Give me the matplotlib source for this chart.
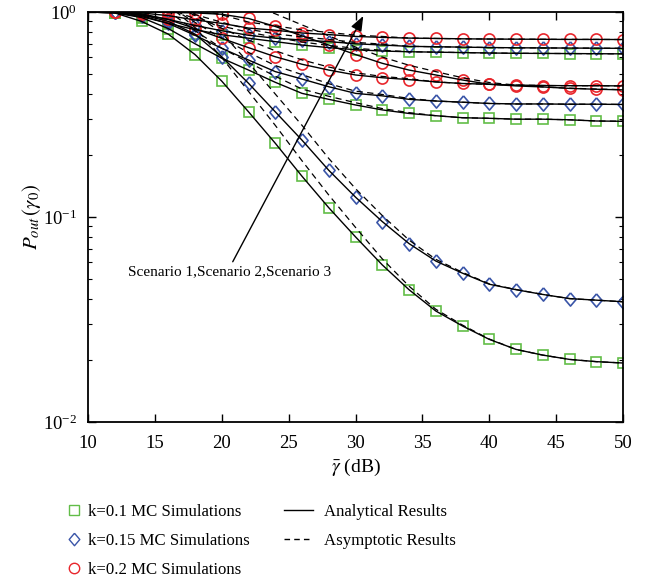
import numpy as np
import matplotlib
matplotlib.use("Agg")
from matplotlib import pyplot as plt
from matplotlib.lines import Line2D

plt.rcParams['font.family'] = ['Liberation Serif', 'DejaVu Serif']
plt.rcParams['mathtext.fontset'] = 'stix'

# eje x: snr medio en dB (las simulaciones MC van de 12 a 50)
snr = [10, 12, 14, 16, 18, 20, 22, 24, 26, 28, 30, 32, 34, 36, 38, 40, 42, 44, 46, 48, 50]

# ---- escenario 1 (curvas de abajo)
q1 = [1.0, 0.99, 0.90, 0.78, 0.62, 0.46, 0.326, 0.229, 0.158, 0.111, 0.080, 0.0584, 0.0442,
      0.0348, 0.0294, 0.0253, 0.0226, 0.0212, 0.0202, 0.0197, 0.0194]
d1 = [1.0, 1.0, 0.97, 0.90, 0.78, 0.605, 0.449, 0.326, 0.237, 0.169, 0.125, 0.095, 0.0742,
      0.061, 0.0532, 0.047, 0.0442, 0.0419, 0.040, 0.0393, 0.0386]
r1 = [1.0, 1.0, 1.0, 0.995, 0.99, 0.975, 0.93, 0.85, 0.765, 0.69, 0.62, 0.562, 0.521,
      0.493, 0.466, 0.444, 0.436, 0.431, 0.424, 0.42, 0.417]
# ---- escenario 2
q2 = [1.0, 0.99, 0.94, 0.83, 0.70, 0.595, 0.521, 0.454, 0.401, 0.375, 0.352, 0.333, 0.32,
      0.312, 0.305, 0.303, 0.30, 0.30, 0.298, 0.294, 0.293]
d2 = [1.0, 1.0, 0.96, 0.88, 0.77, 0.665, 0.583, 0.512, 0.471, 0.432, 0.401, 0.39, 0.375,
      0.368, 0.363, 0.358, 0.356, 0.356, 0.355, 0.355, 0.354]
r2 = [1.0, 1.0, 0.98, 0.92, 0.83, 0.744, 0.67, 0.605, 0.556, 0.521, 0.493, 0.478, 0.468,
      0.456, 0.448, 0.444, 0.44, 0.438, 0.437, 0.437, 0.436]
# ---- escenario 3 (curvas de arriba)
q3 = [1.0, 0.99, 0.95, 0.88, 0.82, 0.775, 0.745, 0.717, 0.69, 0.67, 0.655, 0.645, 0.64,
      0.637, 0.634, 0.631, 0.629, 0.628, 0.627, 0.626, 0.625]
d3 = [1.0, 1.0, 0.97, 0.92, 0.86, 0.81, 0.77, 0.745, 0.73, 0.717, 0.70, 0.69, 0.68,
      0.677, 0.674, 0.671, 0.669, 0.668, 0.667, 0.666, 0.665]
r3 = [1.0, 1.0, 0.99, 0.96, 0.915, 0.88, 0.835, 0.815, 0.79, 0.776, 0.76, 0.752, 0.746,
      0.743, 0.74, 0.738, 0.737, 0.736, 0.735, 0.735, 0.734]

# ---- resultados asintoticos (lineas discontinuas)
q1_as = [1.8, 1.5, 1.3, 1.08, 0.84, 0.60, 0.41, 0.28, 0.188, 0.128, 0.089, 0.0625, 0.046,
         0.0355, 0.0297, 0.0254, 0.0226, 0.0212, 0.0202, 0.0197, 0.0194]
d1_as = [2.0, 1.7, 1.45, 1.2, 0.98, 0.79, 0.566, 0.398, 0.28, 0.193, 0.1375, 0.1017, 0.0772,
         0.0622, 0.0537, 0.0472, 0.0443, 0.0419, 0.040, 0.0393, 0.0386]
r1_as = [1.6, 1.5, 1.4, 1.32, 1.26, 1.2, 1.10, 0.98, 0.865, 0.765, 0.675, 0.603, 0.55,
         0.512, 0.478, 0.453, 0.44, 0.431, 0.425, 0.421, 0.418]
q2_as = [1.5, 1.39, 1.22, 1.01, 0.81, 0.666, 0.568, 0.486, 0.421, 0.388, 0.361, 0.338, 0.323,
         0.312, 0.305, 0.303, 0.30, 0.30, 0.298, 0.294, 0.293]
d2_as = [1.5, 1.4, 1.25, 1.07, 0.89, 0.745, 0.635, 0.548, 0.495, 0.447, 0.411, 0.396, 0.379,
         0.368, 0.363, 0.358, 0.356, 0.356, 0.355, 0.355, 0.354]
r2_as = [1.5, 1.4, 1.27, 1.12, 0.96, 0.833, 0.73, 0.647, 0.584, 0.539, 0.505, 0.485, 0.473,
         0.456, 0.448, 0.444, 0.44, 0.438, 0.437, 0.437, 0.436]
q3_as = [1.4, 1.31, 1.19, 1.04, 0.927, 0.853, 0.797, 0.753, 0.714, 0.687, 0.665, 0.651, 0.64,
         0.637, 0.634, 0.631, 0.629, 0.628, 0.627, 0.626, 0.625]
d3_as = [1.4, 1.32, 1.21, 1.09, 0.972, 0.891, 0.824, 0.782, 0.756, 0.735, 0.711, 0.697, 0.68,
         0.677, 0.674, 0.671, 0.669, 0.668, 0.667, 0.666, 0.665]
r3_as = [1.4, 1.32, 1.24, 1.13, 1.03, 0.968, 0.893, 0.856, 0.818, 0.795, 0.771, 0.76, 0.746,
         0.743, 0.74, 0.738, 0.737, 0.736, 0.735, 0.735, 0.734]

verde = '#62bd48'
azul = '#3a55a8'
rojo = '#e8262c'
# rombo mas ancho que el 'd' de matplotlib
rombo = [(0, 1), (0.85, 0), (0, -1), (-0.85, 0), (0, 1)]

fig = plt.figure(figsize=(6.54, 5.8), dpi=100)
ax = fig.add_axes([0.1346, 0.2724, 0.818, 0.7069])

# lineas discontinuas
for v in [q1_as, d1_as, r1_as, q2_as, d2_as, r2_as, q3_as, d3_as, r3_as]:
    ax.plot(snr, v, color='black', lw=0.9, ls=(0, (5, 3.5)), zorder=3)
# lineas analiticas
for v in [q1, d1, r1, q2, d2, r2, q3, d3, r3]:
    ax.plot(snr, v, color='black', lw=1.0, zorder=3)

# simulaciones MC (desde 12 dB)
for v in [q1, q2, q3]:
    ax.plot(snr[1:], v[1:], ls='none', marker='s', ms=7.5, mfc='none', mec=verde, mew=1.2, zorder=2)
for v in [d1, d2, d3]:
    ax.plot(snr[1:], v[1:], ls='none', marker=rombo, ms=9.5, mfc='none', mec=azul, mew=1.2, zorder=2)
for v in [r1, r2, r3]:
    ax.plot(snr[1:], v[1:], ls='none', marker='o', ms=8, mfc='none', mec=rojo, mew=1.2, zorder=2)

ax.set_yscale('log')
ax.set_xlim(10, 50)
ax.set_ylim(1e-2, 1)
ax.set_xticks([10, 15, 20, 25, 30, 35, 40, 45, 50])
ax.tick_params(which='both', direction='in', top=True, right=True, labelsize=13.5)
ax.tick_params(which='major', length=6, width=1)
ax.tick_params(which='minor', length=3, width=0.8)
ax.tick_params(axis='x', pad=9)
ax.tick_params(axis='y', pad=8)
for s in ax.spines.values():
    s.set_linewidth(1.3)

ax.set_xlabel(r'$\bar{\gamma}$ (dB)', fontsize=14, labelpad=4)
ax.set_ylabel(r'$P_{out}\,(\gamma_0)$', fontsize=15, labelpad=0)

# flecha de escenarios
ax.annotate('', xy=(30.58, 0.956), xytext=(20.82, 0.0605),
            arrowprops=dict(arrowstyle='-|>,head_length=0.9,head_width=0.35', color='black',
                            lw=1.0, shrinkA=0, shrinkB=0))
ax.text(20.6, 0.054, 'Scenario 1,Scenario 2,Scenario 3', fontsize=11, ha='center', va='center')

# leyendas
h1 = [Line2D([], [], ls='none', marker='s', ms=7, mfc='none', mec=verde, mew=1.0),
      Line2D([], [], ls='none', marker=rombo, ms=9, mfc='none', mec=azul, mew=1.0),
      Line2D([], [], ls='none', marker='o', ms=7.5, mfc='none', mec=rojo, mew=1.0)]
fig.legend(h1, ['k=0.1 MC Simulations', 'k=0.15 MC Simulations', 'k=0.2 MC Simulations'],
           loc='upper left', bbox_to_anchor=(0.090, 0.143), frameon=False, fontsize=12.1,
           handlelength=1.0, handletextpad=0.36, labelspacing=0.78, borderaxespad=0)
h2 = [Line2D([], [], color='black', lw=1.0),
      Line2D([], [], color='black', lw=1.0, ls=(0, (4, 3)))]
fig.legend(h2, ['Analytical Results', 'Asymptotic Results'],
           loc='upper left', bbox_to_anchor=(0.424, 0.143), frameon=False, fontsize=12.1,
           handlelength=1.7, handletextpad=0.67, labelspacing=0.78, borderaxespad=0)

fig.savefig('out.png', dpi=100)
